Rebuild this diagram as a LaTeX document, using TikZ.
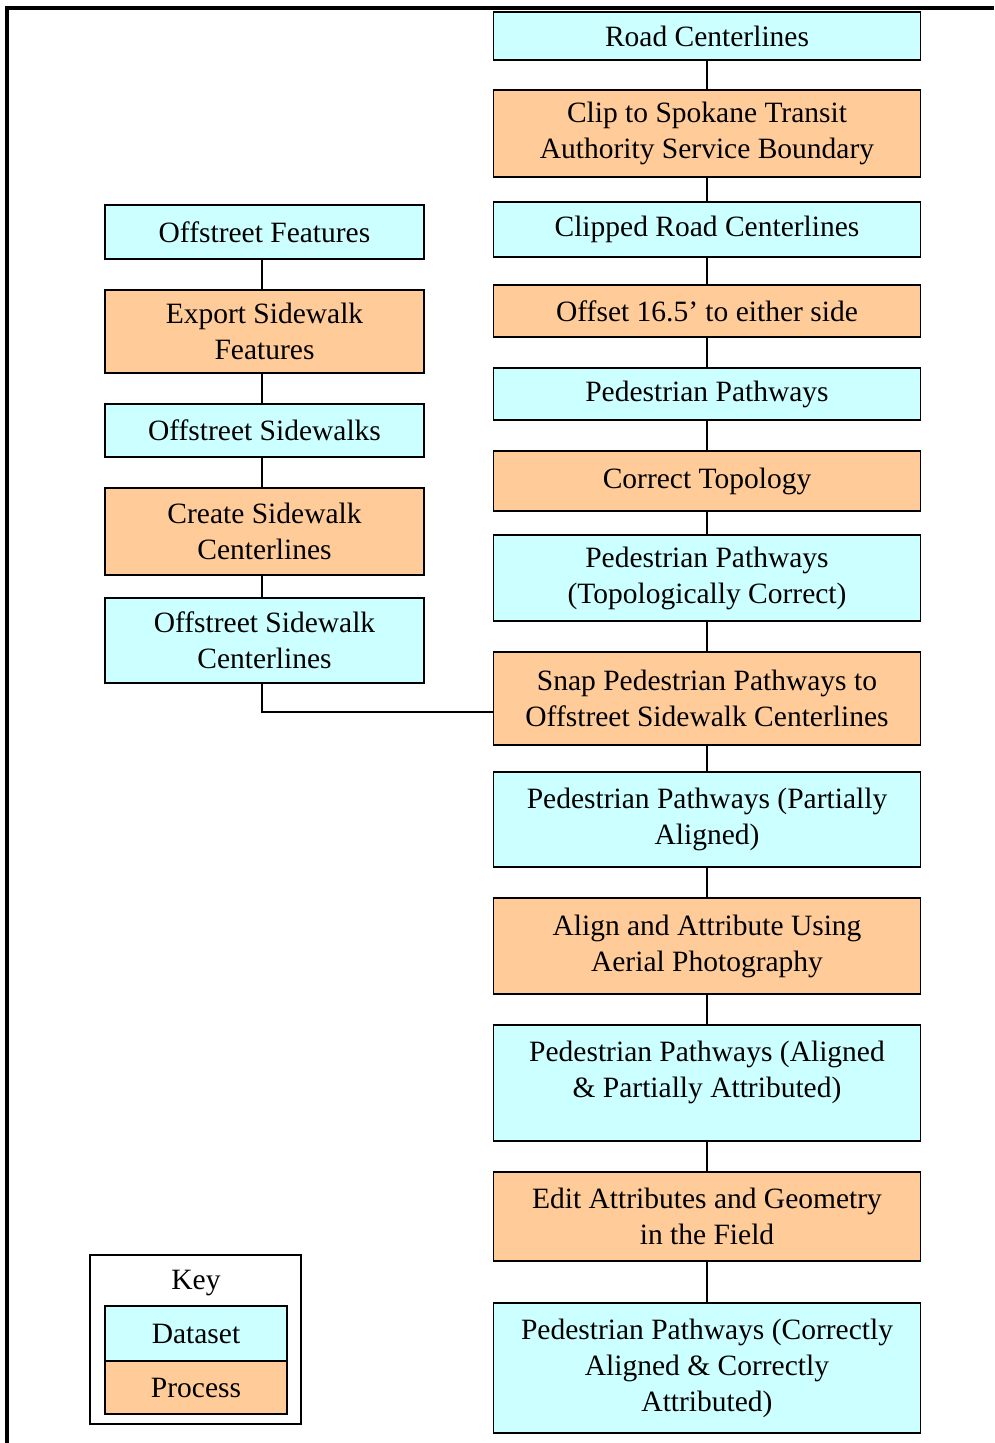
\documentclass[tikz,border=0pt]{standalone}
\usepackage{fontspec}
\setmainfont{Liberation Serif}
\definecolor{dataCyan}{HTML}{CCFFFF}
\definecolor{procOrange}{HTML}{FFCC99}
\tikzset{
  box/.style={draw=black, line width=1.6pt, align=center, inner sep=0pt,
              font=\fontsize{29.5}{36}\selectfont},
  dataset/.style={box, fill=dataCyan},
  process/.style={box, fill=procOrange},
  rightcol/.style={minimum width=427},
  leftcol/.style={minimum width=319},
  link/.style={line width=1.6pt},
  frame/.style={line width=4pt},
}
\begin{document}
\begin{tikzpicture}[x=1pt, y=-1pt]
\useasboundingbox (0,0) rectangle (994,1443);

% page frame
\draw[frame] (7,1443) -- (7,8) -- (994,8);

% main chain
\node[dataset, rightcol, minimum height=48] (road) at (707,36) {Road Centerlines};
\node[process, rightcol, minimum height=87] (clip) at (707,133.5) {Clip to Spokane Transit\\Authority Service Boundary};
\node[dataset, rightcol, minimum height=55] (clipped) at (707,229.5) {Clipped Road Centerlines};
\node[process, rightcol, minimum height=52] (offset) at (707,311) {Offset 16.5’ to either side};
\node[dataset, rightcol, minimum height=52] (ped1) at (707,394) {Pedestrian Pathways};
\node[process, rightcol, minimum height=60] (topo) at (707,481) {Correct Topology};
\node[dataset, rightcol, minimum height=86] (ped2) at (707,578) {Pedestrian Pathways\\(Topologically Correct)};
\node[process, rightcol, minimum height=93] (snap) at (707,698.5) {Snap Pedestrian Pathways to\\Offstreet Sidewalk Centerlines};
\node[dataset, rightcol, minimum height=95] (ped3) at (707,819.5) {Pedestrian Pathways (Partially\\Aligned)};
\node[process, rightcol, minimum height=96] (align) at (707,946) {Align and Attribute Using\\Aerial Photography};
\node[dataset, rightcol, minimum height=116,
      label={[box, draw=none, yshift=11pt]center:Pedestrian Pathways (Aligned\\\& Partially Attributed)}]
      (ped4) at (707,1083) {};
\node[process, rightcol, minimum height=89] (edit) at (707,1216.5) {Edit Attributes and Geometry\\in the Field};
\node[dataset, rightcol, minimum height=130] (ped5) at (707,1368) {Pedestrian Pathways (Correctly\\Aligned \& Correctly\\Attributed)};

% side chain
\node[dataset, leftcol, minimum height=54] (feat) at (264.5,232) {Offstreet Features};
\node[process, leftcol, minimum height=83] (export) at (264.5,331.5) {Export Sidewalk\\Features};
\node[dataset, leftcol, minimum height=53] (walks) at (264.5,430.5) {Offstreet Sidewalks};
\node[process, leftcol, minimum height=87] (create) at (264.5,531.5) {Create Sidewalk\\Centerlines};
\node[dataset, leftcol, minimum height=85] (swcl) at (264.5,640.5) {Offstreet Sidewalk\\Centerlines};

% connectors
\foreach \a/\b in {road/clip, clip/clipped, clipped/offset, offset/ped1, ped1/topo,
                   topo/ped2, ped2/snap, snap/ped3, ped3/align, align/ped4,
                   ped4/edit, edit/ped5}
  \draw[link] (\a.south) -- (\b.north);
\foreach \a/\b in {feat/export, export/walks, walks/create, create/swcl}
  \draw[link] ([xshift=-2.5pt]\a.south) -- ([xshift=-2.5pt]\b.north);
\draw[link] ([xshift=-2.5pt]swcl.south) |- ([yshift=-13.5pt]snap.west);

% key
\node[draw=black, line width=1.4pt, minimum width=211, minimum height=169] (key) at (195.5,1339.5) {};
\node[font=\fontsize{29.5}{36}\selectfont, inner sep=0pt] (keytitle) at (196,1283) {Key};
\node[dataset, minimum width=182, minimum height=55] (kdata) at (196,1333.5) {Dataset};
\node[process, minimum width=182, minimum height=53] (kproc) at (196,1387.5) {Process};
\end{tikzpicture}
\end{document}
